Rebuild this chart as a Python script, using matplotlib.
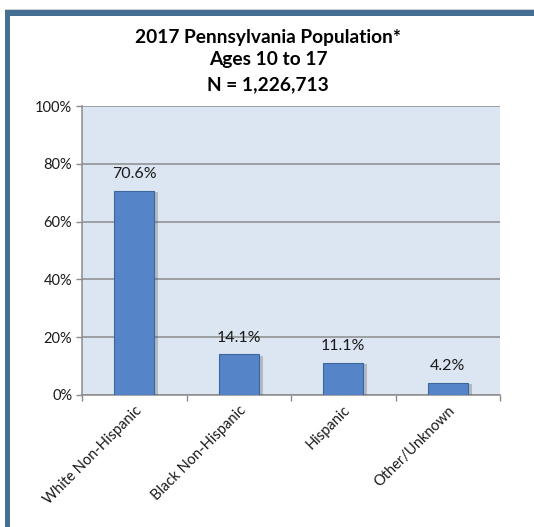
import matplotlib
matplotlib.use("Agg")
import matplotlib.pyplot as plt
from matplotlib import patheffects as pe
from matplotlib.ticker import FuncFormatter, FixedLocator
from matplotlib.patches import Rectangle

categories = ["White Non-Hispanic", "Black Non-Hispanic", "Hispanic", "Other/Unknown"]
values = [70.6, 14.1, 11.1, 4.2]
value_labels = ["70.6%", "14.1%", "11.1%", "4.2%"]
yticks = [0, 20, 40, 60, 80, 100]
title_lines = ["2017 Pennsylvania Population*", "Ages 10 to 17", "N = 1,226,713"]

plt.rcParams['font.family'] = ['Lato', 'DejaVu Sans']

W, H = 534, 527
fig = plt.figure(figsize=(W / 100, H / 100), dpi=100)
fig.patch.set_facecolor("white")

# frame border (top and left)
frame_col = "#456E93"
fig.patches.append(Rectangle((5 / W, 1 - 15.5 / H), 1 - 5 / W, 5.5 / H, transform=fig.transFigure,
                             facecolor=frame_col, edgecolor="none"))
fig.patches.append(Rectangle((5 / W, 0), 5 / W, 1 - 10 / H, transform=fig.transFigure,
                             facecolor=frame_col, edgecolor="none"))
fig.patches.append(Rectangle((5 / W, 1 - 10 / H), 1 - 5 / W, 1 / H, transform=fig.transFigure,
                             facecolor="#D0D0D0", edgecolor="none"))

ax = fig.add_axes([82 / W, 1 - 395 / H, 418 / W, 289 / H])
ax.set_facecolor("#DCE6F2")

x = list(range(len(categories)))
bars = ax.bar(x, values, width=0.38, color="#5585C8", edgecolor="#3B679E", linewidth=0.8, zorder=3)
for b in bars:
    b.set_path_effects([pe.SimplePatchShadow(offset=(3, -1), shadow_rgbFace="#555555", alpha=0.3),
                        pe.Normal()])

for xi, v, lab in zip(x, values, value_labels):
    ax.annotate(lab, (xi, v), xytext=(0, 7), textcoords="offset points", ha="center", va="bottom",
                fontsize=11.5, color="#1a1a1a", zorder=4)

ax.set_xlim(-0.5, len(categories) - 0.5)
ax.set_ylim(0, 100)
ax.yaxis.set_major_locator(FixedLocator(yticks))
ax.yaxis.set_major_formatter(FuncFormatter(lambda v, p: f"{v:.0f}%"))
ax.grid(axis="y", color="#8C8C8C", linewidth=1.1, zorder=1)
ax.set_axisbelow(True)

ax.set_xticks([i - 0.5 for i in range(len(categories) + 1)])
ax.set_xticklabels([])
ax.set_xticks(x, minor=True)
ax.set_xticklabels(categories, minor=True, rotation=45, ha="right", va="top",
                   rotation_mode="anchor", fontsize=10.5, color="#1a1a1a")
ax.tick_params(axis="x", which="minor", length=0, pad=6)
ax.tick_params(axis="x", which="major", length=4, color="#8C8C8C", width=1)
ax.tick_params(axis="y", length=4, color="#8C8C8C", width=1, labelsize=10.5, labelcolor="#1a1a1a", pad=3)

for s in ["top", "right"]:
    ax.spines[s].set_visible(False)
for s in ["left", "bottom"]:
    ax.spines[s].set_color("#8C8C8C")
    ax.spines[s].set_linewidth(1.1)

ys = [37, 60, 85]
for t, yy in zip(title_lines, ys):
    fig.text(268 / W, 1 - yy / H, t, ha="center", va="center", fontsize=13.8, fontweight="bold",
             color="black")

fig.savefig("out.png", dpi=100, facecolor="white")
